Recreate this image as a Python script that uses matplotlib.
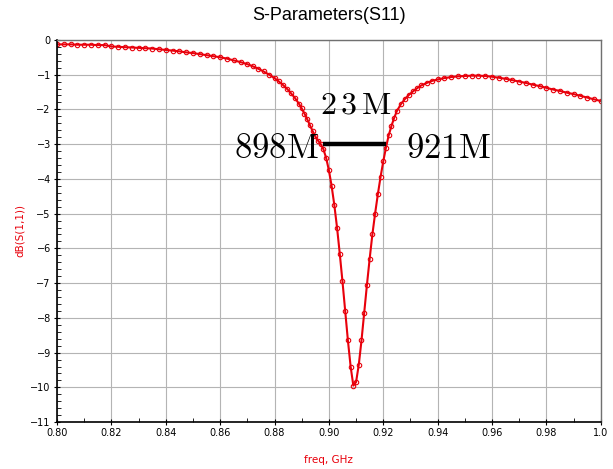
import numpy as np
import matplotlib.pyplot as plt

# значення
freq = [0.8000, 0.8025, 0.8050, 0.8075, 0.8100, 0.8125, 0.8150, 0.8175, 0.8200, 0.8225,
        0.8250, 0.8275, 0.8300, 0.8325, 0.8350, 0.8375, 0.8400, 0.8425, 0.8450, 0.8475,
        0.8500, 0.8525, 0.8550, 0.8575, 0.8600, 0.8625, 0.8650, 0.8675, 0.8700, 0.8720,
        0.8740, 0.8760, 0.8780, 0.8800, 0.8815, 0.8830, 0.8845, 0.8860, 0.8875, 0.8890,
        0.8900, 0.8910, 0.8920, 0.8930, 0.8940, 0.8950, 0.8960, 0.8970, 0.8980, 0.8990,
        0.9000, 0.9010, 0.9020, 0.9030, 0.9040, 0.9050, 0.9060, 0.9070, 0.9080, 0.9090,
        0.9100, 0.9110, 0.9120, 0.9130, 0.9140, 0.9150, 0.9160, 0.9170, 0.9180, 0.9190,
        0.9200, 0.9210, 0.9220, 0.9230, 0.9240, 0.9250, 0.9265, 0.9280, 0.9295, 0.9310,
        0.9325, 0.9340, 0.9360, 0.9380, 0.9400, 0.9425, 0.9450, 0.9475, 0.9500, 0.9525,
        0.9550, 0.9575, 0.9600, 0.9625, 0.9650, 0.9675, 0.9700, 0.9725, 0.9750, 0.9775,
        0.9800, 0.9825, 0.9850, 0.9875, 0.9900, 0.9925, 0.9950, 0.9975, 1.0000]
s11 = [-0.13, -0.13, -0.13, -0.14, -0.14, -0.14, -0.15, -0.15, -0.19, -0.20,
       -0.21, -0.22, -0.23, -0.24, -0.25, -0.27, -0.29, -0.31, -0.33, -0.36,
       -0.38, -0.41, -0.44, -0.47, -0.50, -0.54, -0.59, -0.64, -0.70, -0.76,
       -0.83, -0.91, -1.00, -1.10, -1.19, -1.29, -1.40, -1.53, -1.67, -1.84,
       -1.97, -2.12, -2.28, -2.45, -2.62, -2.78, -2.90, -3.00, -3.15, -3.40,
       -3.75, -4.20, -4.75, -5.40, -6.15, -6.95, -7.80, -8.65, -9.40, -9.95,
       -9.85, -9.35, -8.65, -7.85, -7.05, -6.30, -5.60, -5.00, -4.45, -3.95,
       -3.50, -3.10, -2.75, -2.48, -2.25, -2.05, -1.85, -1.70, -1.58, -1.48,
       -1.39, -1.31, -1.24, -1.18, -1.14, -1.10, -1.07, -1.05, -1.04, -1.03,
       -1.03, -1.04, -1.06, -1.09, -1.12, -1.16, -1.20, -1.24, -1.29, -1.33,
       -1.38, -1.43, -1.47, -1.52, -1.56, -1.61, -1.66, -1.71, -1.76]

bw_start = 0.898
bw_end = 0.921
bw_level = -3

red = "#e8000b"

plt.rcParams["mathtext.fontset"] = "cm"

fig = plt.figure(figsize=(6.13, 4.69), dpi=100)
ax = fig.add_axes([0.093, 0.100, 0.887, 0.815])

ax.plot(freq, s11, color=red, lw=1.5, marker="o", ms=3.2, mfc="none", mec=red, mew=0.8)
ax.plot([bw_start, bw_end], [bw_level, bw_level], color="black", lw=3.2, solid_capstyle="butt")

ax.text(bw_start - 0.0017, bw_level - 0.12, r"$\mathrm{898M}$", fontsize=25, ha="right", va="center")
ax.text(bw_end + 0.0072, bw_level - 0.12, r"$\mathrm{921M}$", fontsize=25, ha="left", va="center")
ax.text((bw_start + bw_end) / 2 + 0.0005, -1.88, r"$\mathrm{2\,3\,M}$", fontsize=23, ha="center", va="center")

ax.set_xlim(0.80, 1.0)
ax.set_ylim(-11, 0)
ax.set_xticks(np.arange(0.80, 1.001, 0.02))
ax.set_xticklabels(["0.80", "0.82", "0.84", "0.86", "0.88", "0.90", "0.92", "0.94", "0.96", "0.98", "1.0"])
ax.set_xticks(np.arange(0.81, 1.0, 0.02), minor=True)
ax.set_yticks(np.arange(-11, 1, 1))
ax.set_yticks(np.arange(-11, 0.01, 0.2), minor=True)
ax.tick_params(axis="both", which="major", labelsize=7, direction="inout", length=5, width=0.8, pad=2)
ax.tick_params(axis="both", which="minor", direction="in", length=3, width=0.6)
for lab in ax.get_xticklabels() + ax.get_yticklabels():
    lab.set_family("Liberation Sans Narrow")
ax.grid(True, which="major", color="#b4b4b4", lw=0.8)

for s in ["left", "bottom"]:
    ax.spines[s].set_linewidth(1.2)
    ax.spines[s].set_color("black")
for s in ["top", "right"]:
    ax.spines[s].set_linewidth(1.0)
    ax.spines[s].set_color("#707070")

ax.set_title("S-Parameters(S11)", family="Liberation Sans", fontsize=13, pad=14)
ax.set_xlabel("freq, GHz", color=red, fontsize=7.5, family="Liberation Sans Narrow", labelpad=12)
ax.set_ylabel("dB(S(1,1))", color=red, fontsize=7.5, family="Liberation Sans Narrow", labelpad=4)

plt.savefig("out.png", dpi=100)
